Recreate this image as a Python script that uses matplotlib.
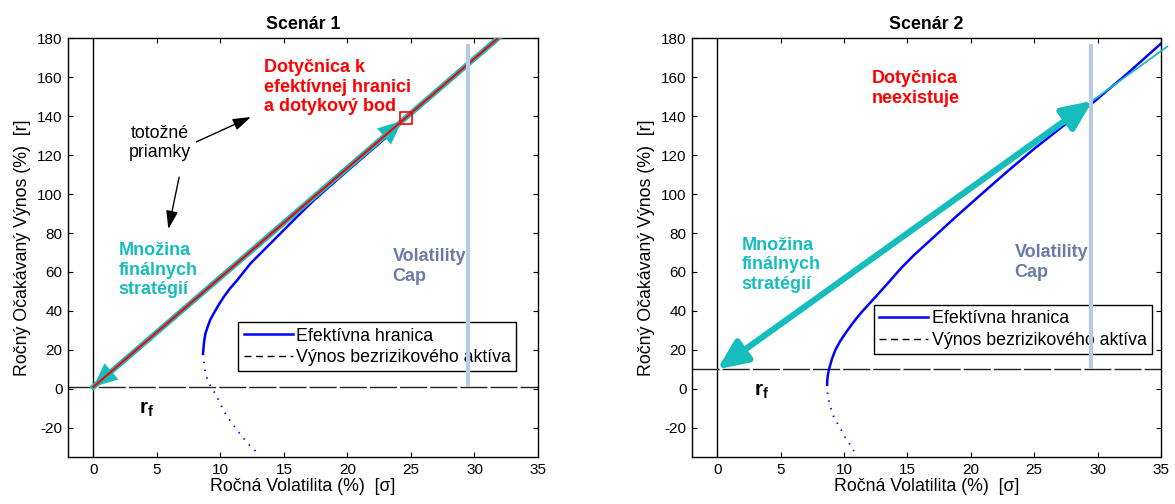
import matplotlib.pyplot as plt
from matplotlib.lines import Line2D

plt.rcParams['font.family'] = ['Liberation Sans', 'DejaVu Sans']
plt.rcParams['axes.unicode_minus'] = False
plt.rcParams['mathtext.fontset'] = 'custom'
plt.rcParams['mathtext.bf'] = 'Liberation Sans:bold'
plt.rcParams['mathtext.rm'] = 'Liberation Sans'

# ---- Scenar 1 ----
s1_sig = [8.63, 8.66, 8.72, 8.82, 9.0, 9.2, 9.47, 9.85, 10.26, 10.75, 11.32,
          12.37, 13.42, 14.74, 16.05, 17.3, 18.6, 20.0, 21.3, 22.5, 23.5,
          24.54, 27.0, 29.5, 32.3]
s1_ret = [18.0, 20.5, 24.5, 28.4, 32.0, 35.5, 38.7, 43.0, 47.2, 51.5, 55.8,
          64.4, 71.3, 79.9, 88.5, 96.5, 104.0, 112.0, 119.3, 126.0, 131.7,
          139.0, 152.6, 166.6, 182.0]
s1_sig_dot = [8.63, 8.73, 8.80, 8.94, 9.12, 9.45, 9.72, 9.93, 10.2, 10.4,
              10.76, 11.15, 11.7, 12.3, 12.93]
s1_ret_dot = [18.0, 12.0, 8.6, 5.5, 2.6, -0.9, -3.8, -6.9, -10.3, -12.9,
              -16.3, -19.8, -24.5, -29.0, -33.0]
s1_rf = 1.0
s1_cml_sig = [0.0, 33.0]
s1_cml_ret = [1.0, 186.5]
s1_arrow_sig = [0.0, 24.3]
s1_arrow_ret = [1.0, 137.6]
s1_tangent = [24.6, 139.0]

# ---- Scenar 2 ----
s2_sig = [8.66, 8.68, 8.74, 8.87, 9.05, 9.32, 9.7, 10.11, 10.7, 11.3, 12.49,
          13.5, 14.47, 15.5, 16.58, 18.69, 20.8, 22.91, 25.0, 27.4, 29.77, 32.4, 35.19]
s2_ret = [2.2, 5.0, 8.0, 11.5, 15.5, 20.1, 24.6, 28.6, 33.9, 38.8, 47.3,
          54.6, 61.8, 68.6, 75.0, 87.6, 99.8, 111.8, 123.3, 135.6, 147.7, 162.2, 178.4]
s2_sig_dot = [8.66, 8.68, 8.73, 8.84, 8.94, 9.2, 9.45, 9.68, 9.9, 10.1, 10.45, 10.78]
s2_ret_dot = [2.2, -1.0, -4.6, -7.2, -9.7, -14.8, -17.5, -20.0, -22.6, -25.1, -28.5, -31.9]
s2_rf = 10.0
s2_arrow_sig = [0.0, 29.6]
s2_arrow_ret = [10.0, 147.9]
s2_ext_sig = [29.5, 35.5]
s2_ext_ret = [147.5, 175.8]

vol_cap = 29.5
vol_cap_top = 177.0

xticks = [0, 5, 10, 15, 20, 25, 30, 35]
yticks = [-20, 0, 20, 40, 60, 80, 100, 120, 140, 160, 180]

CYAN = '#17bdbd'
CAPLINE = '#b7cbe5'
CAPTEXT = '#6a7ca6'
FS = 12.8
FSB = 13


def draw_common(ax, title, sig, ret, sig_dot, ret_dot, rf, leg_anchor):
    ax.set_xlim(-2, 35)
    ax.set_ylim(-35, 180)
    ax.set_xticks(xticks)
    ax.set_yticks(yticks)
    ax.tick_params(direction='in', top=True, right=True, length=3.6,
                   width=0.8, labelsize=11, pad=4)
    for sp in ax.spines.values():
        sp.set_linewidth(1.0)
    ax.set_title(title, fontsize=FS, fontweight='bold', pad=7)
    ax.set_xlabel('Ročná Volatilita (%)  [σ]', fontsize=FS, labelpad=1)
    ax.set_ylabel('Ročný Očakávaný Výnos (%)  [r]', fontsize=FS, labelpad=4)

    ax.axvline(0, color='black', lw=1.0, zorder=1)
    ax.axhline(rf, color='#202020', lw=1.0, dashes=(19.5, 2.2), zorder=1)
    front, = ax.plot(sig, ret, color='blue', lw=1.8, zorder=2)
    ax.plot(sig_dot, ret_dot, color='blue', lw=1.4, linestyle=(0, (0.7, 3.4)), zorder=2)
    ax.plot([vol_cap, vol_cap], [rf, vol_cap_top], color=CAPLINE, lw=3.0,
            solid_capstyle='butt', zorder=6)

    proxy = Line2D([], [], color='black', lw=1.0, dashes=(5, 3.3))
    ax.legend([front, proxy], ['Efektívna hranica', 'Výnos bezrizikového aktíva'],
              loc='upper left', bbox_to_anchor=leg_anchor,
              bbox_transform=ax.figure.transFigure, fontsize=FS,
              fancybox=False, edgecolor='black', framealpha=1, borderpad=0.3,
              handlelength=2.75, handletextpad=0.2, labelspacing=0.25,
              borderaxespad=0)
    ax.get_legend().get_frame().set_linewidth(1.0)


def cyan_arrow(ax, sig, ret, lw, hl, hw):
    ax.annotate('', xy=(sig[0], ret[0]), xytext=(sig[1], ret[1]),
                arrowprops=dict(arrowstyle='<|-|>,head_length=%s,head_width=%s' % (hl, hw),
                                color=CYAN, lw=lw, mutation_scale=20,
                                shrinkA=0, shrinkB=0), zorder=3)


fig = plt.figure(figsize=(11.75, 5.04), dpi=100)
ax1 = fig.add_axes([68 / 1175, 1 - 457 / 504, 470 / 1175, 418.7 / 504])
ax2 = fig.add_axes([692 / 1175, 1 - 457 / 504, 469 / 1175, 418.7 / 504])

# Scenar 1
draw_common(ax1, 'Scenár 1', s1_sig, s1_ret, s1_sig_dot, s1_ret_dot, s1_rf,
            (238.3 / 1175, 1 - 322.3 / 504))
ax1.plot(s1_cml_sig, s1_cml_ret, color=CYAN, lw=4.0, zorder=3)
cyan_arrow(ax1, s1_arrow_sig, s1_arrow_ret, 0.1, 0.85, 0.38)
ax1.plot(s1_cml_sig, s1_cml_ret, color='red', lw=1.5, zorder=4)
ax1.plot([s1_tangent[0]], [s1_tangent[1]], 's', mfc='none', mec='red', ms=8, mew=1.2, zorder=4)

arrow_k = dict(arrowstyle='-|>,head_length=0.55,head_width=0.18', color='black',
               lw=1.0, mutation_scale=20, shrinkA=0, shrinkB=0)
ax1.annotate('', xy=(12.4, 139.6), xytext=(8.1, 126.8), arrowprops=arrow_k)
ax1.annotate('', xy=(5.9, 82.1), xytext=(6.75, 108.7), arrowprops=arrow_k)
ax1.text(5.2, 126.3, 'totožné\npriamky', ha='center', va='center', fontsize=FS,
         linespacing=1.2)
ax1.text(13.4, 154.8, 'Dotyčnica k\nefektívnej hranici\na dotykový bod', color='red',
         fontweight='bold', ha='left', va='center', fontsize=FSB, linespacing=1.2)
ax1.text(2.0, 61.0, 'Množina\nfinálnych\nstratégií', color=CYAN, fontweight='bold',
         ha='left', va='center', fontsize=FSB, linespacing=1.2)
ax1.text(23.56, 62.8, 'Volatility\nCap', color=CAPTEXT, fontweight='bold',
         ha='left', va='center', fontsize=FSB, linespacing=1.2)
ax1.text(3.6, -10.5, r'$\mathbf{r_f}$', ha='left', va='center', fontsize=15)

# Scenar 2
draw_common(ax2, 'Scenár 2', s2_sig, s2_ret, s2_sig_dot, s2_ret_dot, s2_rf,
            (874 / 1175, 1 - 305 / 504))
ax2.plot(s2_ext_sig, s2_ext_ret, color=CYAN, lw=1.3, zorder=3, clip_on=False)
cyan_arrow(ax2, s2_arrow_sig, s2_arrow_ret, 4.5, 0.9, 0.4)
ax2.text(12.19, 154.3, 'Dotyčnica\nneexistuje', color='red', fontweight='bold',
         ha='left', va='center', fontsize=FSB, linespacing=1.2)
ax2.text(1.93, 63.7, 'Množina\nfinálnych\nstratégií', color=CYAN, fontweight='bold',
         ha='left', va='center', fontsize=FSB, linespacing=1.2)
ax2.text(23.45, 64.9, 'Volatility\nCap', color=CAPTEXT, fontweight='bold',
         ha='left', va='center', fontsize=FSB, linespacing=1.2)
ax2.text(2.9, -1.5, r'$\mathbf{r_f}$', ha='left', va='center', fontsize=15)

fig.savefig('out.png', dpi=100)
